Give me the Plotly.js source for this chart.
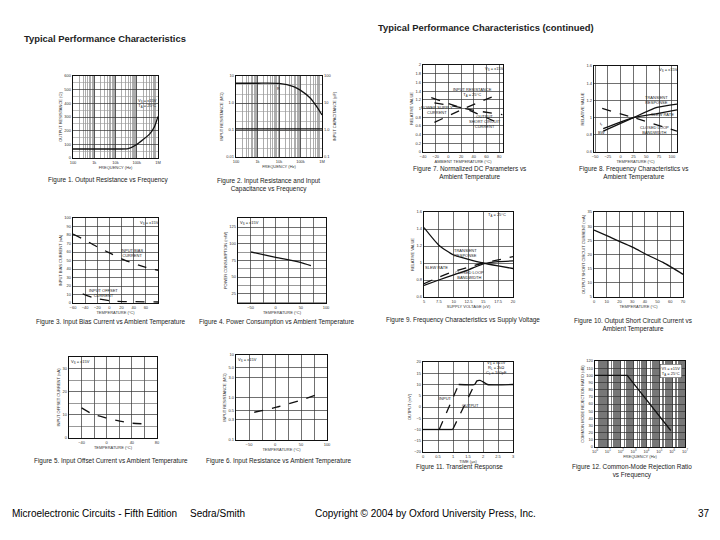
<!DOCTYPE html>
<html>
<head>
<meta charset="utf-8">
<script src="https://cdn.plot.ly/plotly-3.0.1.min.js"></script>
<style>html,body{margin:0;padding:0;background:#fff;}#chart{width:720px;height:540px;}</style>
</head>
<body>
<div id="chart"></div>
<script>
// ---------- DATA ----------
// Figure 1: Output resistance vs frequency
const f1Freq = [100, 1000, 10000, 39000, 96000, 195000, 410000, 690000, 1000000];
const f1Rout = [66, 66, 66, 68, 97, 134, 177, 231, 304];
// Figure 2: Input resistance and capacitance vs frequency
const f2Freq = [100, 1000, 10000, 48000, 98000, 290000, 590000, 1000000];
const f2Rin = [5.4, 5.4, 5.3, 4.05, 3.0, 1.5, 0.7, 0.36];
const f2FreqC = [100, 1000, 10000, 100000, 1000000];
const f2Cin = [1.1, 1.1, 1.1, 1.1, 1.1];
// Figure 3: Input bias / offset current vs temperature
const f3Temp = [-60, -40, -20, 0, 20, 40, 60, 80];
const f3Ibias = [81, 74, 66, 59, 52, 46.5, 42, 38.5];
const f3TempOs = [-44, -26, 0, 12, 40, 80];
const f3Ioffset = [10.7, 6, 2.8, 2, 1.6, 1.2];
// Figure 4: Power consumption vs temperature
const f4Temp = [-49, 0, 49, 70];
const f4Power = [87.5, 79.5, 72, 67];
// Figure 5: Input offset current vs temperature
const f5Temp = [-40, -23, -1, 20.5, 40.5, 60];
const f5Ios = [13, 10.4, 8.7, 7.3, 6.4, 6.1];
// Figure 6: Input resistance vs temperature
const f6Temp = [-40, 3, 50, 79];
const f6Rin = [0.45, 0.59, 0.87, 1.15];
// Figure 7: Normalized DC parameters
const f7TempR = [-22, 25, 81];
const f7InRes = [0.68, 1.0, 1.34];
const f7TempP = [-27, 25, 85];
const f7PsCurr = [1.25, 1.0, 0.86];
const f7TempS = [-22, 25, 78];
const f7ScCurr = [1.13, 1.0, 0.67];
// Figure 8: Frequency characteristics vs temperature
const f8Temp = [-34, 25, 71, 110];
const f8Trans = [0.843, 1.0, 1.118, 1.157];
const f8Slew = [0.871, 1.0, 1.047, 1.09];
const f8TempBw = [-36, 25, 110];
const f8Bw = [1.106, 1.0, 0.843];
// Figure 9: Frequency characteristics vs supply voltage
const f9Volt = [5, 7.5, 10, 12.5, 15, 17.5, 20];
const f9Trans = [1.417, 1.21, 1.094, 1.044, 1.0, 0.966, 0.935];
const f9Slew = [0.756, 0.833, 0.9, 0.95, 1.0, 1.036, 1.075];
const f9Bw = [0.736, 0.80, 0.86, 0.92, 0.99, 1.016, 1.024];
// Figure 10: Output short circuit current vs temperature
const f10Temp = [0, 12.3, 30.7, 41.2, 54.3, 70];
const f10Isc = [28.6, 26.2, 22.5, 20.0, 17.2, 13.0];
// Figure 11: Transient response (flat parts shared, ramps dashed)
const f11LowTime = [0, 0.99];
const f11Low = [-10, -10];
const f11InRampTime = [0.54, 1.19];
const f11InRamp = [-10, 10];
const f11OutRampTime = [0.99, 1.72];
const f11OutRamp = [-10, 10];
const f11HighTime = [1.19, 1.72, 1.8, 1.9, 2.0, 2.15, 3.0];
const f11High = [10, 10, 11.6, 11.8, 11.2, 10, 10];
// Figure 12: CMRR vs frequency
const f12Freq = [1, 320, 780000];
const f12Cmrr = [100, 100, 23];

// tick labels
const freqTicks = [100, 1000, 10000, 100000, 1000000];
const freqLabels = ['100', '1k', '10k', '100k', '1M'];
const f2RTicks = [0.01, 0.1, 1, 10];
const f2RLabels = ['0.01', '0.1', '1.0', '10'];
const f2CTicks = [0.1, 1, 10, 100];
const f2CLabels = ['0.1', '1.0', '10', '100'];
const f6Ticks = [0.1, 0.3, 0.5, 1, 3, 5, 10];
const f6Labels = ['0.1', '0.3', '0.5', '1.0', '3.0', '5.0', '10'];
const f12Ticks = [1, 10, 100, 1e3, 1e4, 1e5, 1e6, 1e7];
const f12Labels = ['10<sup>0</sup>', '10<sup>1</sup>', '10<sup>2</sup>', '10<sup>3</sup>', '10<sup>4</sup>', '10<sup>5</sup>', '10<sup>6</sup>', '10<sup>7</sup>'];

// ---------- LAYOUT HELPERS ----------
const W = 720, H = 540;
const FONT = 'Liberation Sans, Arial, sans-serif';
function dom(l, r, t, b) { return { x: [l / W, r / W], y: [1 - b / H, 1 - t / H] }; }
function axName(i, c) { return c + 'axis' + (i === 1 ? '' : i); }
function ref(i, c) { return c + (i === 1 ? '' : i); }
function baseAxis(extra) {
  const a = {
    showline: true, mirror: true, linecolor: '#111', linewidth: 1.2,
    showgrid: true, gridcolor: '#333', gridwidth: 0.7, zeroline: false,
    ticks: '', tickfont: { family: FONT, size: 4, color: '#333' },
    fixedrange: true
  };
  Object.assign(a, extra);
  if (extra.titleText) {
    a.title = { text: extra.titleText, font: { family: FONT, size: 4, color: '#333' }, standoff: 2 };
    delete a.titleText;
  }
  return a;
}

const panels = [
  { d: dom(73, 158, 76, 158),
    x: { type: 'log', range: [2, 6], tickvals: freqTicks, ticktext: freqLabels, minor: { dtick: 'D1', showgrid: true, gridcolor: '#999', gridwidth: 0.8 }, titleText: 'FREQUENCY (Hz)' },
    y: { range: [0, 600], dtick: 100, minor: { dtick: 50, showgrid: true, gridcolor: '#999', gridwidth: 0.6 }, titleText: 'OUTPUT RESISTANCE (Ω)' } },
  { d: dom(236, 322, 76, 157),
    x: { type: 'log', range: [2, 6], tickvals: freqTicks, ticktext: freqLabels, minor: { dtick: 'D1', showgrid: true, gridcolor: '#999', gridwidth: 0.8 }, titleText: 'FREQUENCY (Hz)' },
    y: { type: 'log', range: [-2, 1], tickvals: f2RTicks, ticktext: f2RLabels, minor: { dtick: 'D2', showgrid: true, gridcolor: '#999', gridwidth: 0.6 }, titleText: 'INPUT RESISTANCE (MΩ)' } },
  { d: dom(73, 158, 218, 303),
    x: { range: [-60, 80], tickvals: [-60, -40, -20, 0, 20, 40, 60], titleText: 'TEMPERATURE (°C)' },
    y: { range: [0, 100], dtick: 10, titleText: 'INPUT BIAS CURRENT (nA)' } },
  { d: dom(238, 326, 218, 303),
    x: { range: [-75, 100], tick0: -50, dtick: 50, minor: { dtick: 25, showgrid: true, gridcolor: '#333', gridwidth: 0.7 }, titleText: 'TEMPERATURE (°C)' },
    y: { range: [11, 138.5], tick0: 25, dtick: 25, minor: { dtick: 12.5, showgrid: true, gridcolor: '#555', gridwidth: 0.6 }, titleText: 'POWER CONSUMPTION (mW)' } },
  { d: dom(69, 157, 357, 438),
    x: { range: [-60, 80], tick0: -40, dtick: 40, minor: { dtick: 20, showgrid: true, gridcolor: '#333', gridwidth: 0.7 }, titleText: 'TEMPERATURE (°C)' },
    y: { range: [0, 35], dtick: 10, minor: { dtick: 5, showgrid: true, gridcolor: '#555', gridwidth: 0.6 }, titleText: 'INPUT OFFSET CURRENT (nA)' } },
  { d: dom(236, 327, 355, 440),
    x: { range: [-75, 100], tick0: -50, dtick: 50, minor: { dtick: 25, showgrid: true, gridcolor: '#333', gridwidth: 0.7 }, titleText: 'TEMPERATURE (°C)' },
    y: { type: 'log', range: [-1, 1], tickvals: f6Ticks, ticktext: f6Labels, titleText: 'INPUT RESISTANCE (MΩ)' } },
  { d: dom(423, 503, 65, 152),
    x: { range: [-40, 86], tick0: -40, dtick: 20, titleText: 'AMBIENT TEMPERATURE (°C)' },
    y: { range: [0, 2], dtick: 0.2, titleText: 'RELATIVE VALUE' } },
  { d: dom(594, 677, 66, 152),
    x: { range: [-52, 110], tick0: -50, dtick: 25, titleText: 'TEMPERATURE (°C)' },
    y: { range: [0.6, 1.6], dtick: 0.2, titleText: 'RELATIVE VALUE' } },
  { d: dom(424, 513, 212, 297),
    x: { range: [5, 20], tick0: 5, dtick: 2.5, titleText: 'SUPPLY VOLTAGE (±V)' },
    y: { range: [0.6, 1.6], dtick: 0.2, titleText: 'RELATIVE VALUE' } },
  { d: dom(594, 683, 212, 297),
    x: { range: [0, 70], dtick: 10, titleText: 'TEMPERATURE (°C)' },
    y: { range: [5, 35], dtick: 5, titleText: 'OUTPUT SHORT CIRCUIT CURRENT (mA)' } },
  { d: dom(423, 513, 362, 452),
    x: { range: [0, 3], dtick: 0.5, titleText: 'TIME (µs)' },
    y: { range: [-20, 20], dtick: 5, titleText: 'OUTPUT (mV)' } },
  { d: dom(595, 685, 361, 447),
    x: { type: 'log', range: [0, 7], tickvals: f12Ticks, ticktext: f12Labels, minor: { dtick: 'D1', showgrid: true, gridcolor: '#777', gridwidth: 1.5 }, titleText: 'FREQUENCY (Hz)' },
    y: { range: [0, 120], dtick: 10, titleText: 'COMMON MODE REJECTION RATIO (dB)' } }
];

const layout = {
  width: W, height: H, margin: { l: 0, r: 0, t: 0, b: 0 },
  paper_bgcolor: '#fff', plot_bgcolor: '#fff', showlegend: false,
  font: { family: FONT, color: '#222' },
  annotations: []
};
panels.forEach((p, k) => {
  const i = k + 1;
  layout[axName(i, 'x')] = baseAxis(Object.assign({ domain: p.d.x, anchor: ref(i, 'y') }, p.x));
  layout[axName(i, 'y')] = baseAxis(Object.assign({ domain: p.d.y, anchor: ref(i, 'x') }, p.y));
});
// right axis of figure 2 (capacitance)
layout.yaxis13 = baseAxis({ overlaying: 'y2', anchor: 'x2', side: 'right', type: 'log', range: [-1, 2], tickvals: f2CTicks, ticktext: f2CLabels, showgrid: false, titleText: 'INPUT CAPACITANCE (pF)' });

function line(i, x, y, dash, yref, straight) {
  return { x: x, y: y, xaxis: ref(i, 'x'), yaxis: yref || ref(i, 'y'), mode: 'lines', hoverinfo: 'skip',
    line: straight ? { color: '#111', width: 1.3, dash: dash || 'solid' }
                   : { color: '#111', width: 1.3, dash: dash || 'solid', shape: 'spline', smoothing: 0.6 } };
}
const data = [
  line(1, f1Freq, f1Rout),
  line(2, f2Freq, f2Rin),
  line(2, f2FreqC, f2Cin, 'solid', 'y13'),
  line(3, f3Temp, f3Ibias, 'dash'),
  line(3, f3TempOs, f3Ioffset, 'dash'),
  line(4, f4Temp, f4Power),
  line(5, f5Temp, f5Ios, 'dash'),
  line(6, f6Temp, f6Rin, 'dash'),
  line(7, f7TempR, f7InRes, 'dash'),
  line(7, f7TempP, f7PsCurr, 'dash'),
  line(7, f7TempS, f7ScCurr, 'dash'),
  line(8, f8Temp, f8Trans),
  line(8, f8Temp, f8Slew),
  line(8, f8TempBw, f8Bw, 'dash'),
  line(9, f9Volt, f9Trans),
  line(9, f9Volt, f9Slew, 'dash'),
  line(9, f9Volt, f9Bw),
  line(10, f10Temp, f10Isc),
  line(11, f11LowTime, f11Low, 'solid', null, true),
  line(11, f11InRampTime, f11InRamp, 'dash', null, true),
  line(11, f11OutRampTime, f11OutRamp, 'dash', null, true),
  line(11, f11HighTime, f11High, 'solid'),
  line(12, f12Freq, f12Cmrr, 'solid', null, true)
];

function ann(text, px, py, size, opts) {
  return Object.assign({ text: text, x: px / W, y: 1 - py / H, xref: 'paper', yref: 'paper', showarrow: false,
    xanchor: 'center', yanchor: 'middle', font: { family: FONT, size: size, color: '#222' } }, opts || {});
}
const A = layout.annotations;
// page titles
A.push(ann('<b>Typical Performance Characteristics</b>', 22, 38, 9.4, { xanchor: 'left' }));
A.push(ann('<b>Typical Performance Characteristics (continued)</b>', 376, 28, 9.4, { xanchor: 'left' }));
// captions
const CS = 6.4;
A.push(ann('Figure 1. Output Resistance vs Frequency', 109, 180, CS));
A.push(ann('Figure 2. Input Resistance and Input<br>Capacitance vs Frequency', 268, 185, CS));
A.push(ann('Figure 3. Input Bias Current vs Ambient Temperature', 111, 322, CS));
A.push(ann('Figure 4. Power Consumption vs Ambient Temperature', 277, 322, CS));
A.push(ann('Figure 5. Input Offset Current vs Ambient Temperature', 111, 461, CS));
A.push(ann('Figure 6. Input Resistance vs Ambient Temperature', 279, 461, CS));
A.push(ann('Figure 7. Normalized DC Parameters vs<br>Ambient Temperature', 469, 173, CS));
A.push(ann('Figure 8. Frequency Characteristics vs<br>Ambient Temperature', 633, 173, CS));
A.push(ann('Figure 9. Frequency Characteristics vs Supply Voltage', 463, 320, CS));
A.push(ann('Figure 10. Output Short Circuit Current vs<br>Ambient Temperature', 633, 325, CS));
A.push(ann('Figure 11. Transient Response', 460, 467, CS));
A.push(ann('Figure 12. Common-Mode Rejection Ratio<br>vs Frequency', 632, 471, CS));
// in-plot labels
const LS = 4;
A.push(ann('V<sub>S</sub> = ±15V<br>T<sub>A</sub> = 25°C', 147, 103, LS));
A.push(ann('R', 278, 88, LS));
A.push(ann('C', 278, 130, LS));
A.push(ann('V<sub>S</sub> = ±15V', 149, 223, LS));
A.push(ann('INPUT BIAS<br>CURRENT', 132, 253, LS));
A.push(ann('INPUT OFFSET<br>CURRENT', 103, 293, LS));
A.push(ann('V<sub>S</sub> = ±15V', 249, 223, LS));
A.push(ann('V<sub>S</sub> = ±15V', 80, 362, LS));
A.push(ann('V<sub>S</sub> = ±15V', 247, 360, LS));
A.push(ann('V<sub>S</sub> = ±15V', 494, 69, LS));
A.push(ann('INPUT RESISTANCE<br>T<sub>A</sub> = 25°C', 472, 92, LS));
A.push(ann('POWER SUPPLY<br>CURRENT', 437, 110, LS));
A.push(ann('OUTPUT<br>SHORT CIRCUIT<br>CURRENT', 485, 122, LS));
A.push(ann('V<sub>S</sub> = ±15V', 668, 70, LS));
A.push(ann('TRANSIENT<br>RESPONSE', 656, 100, LS));
A.push(ann('SLEW RATE', 662, 114, LS));
A.push(ann('CLOSED LOOP<br>BANDWIDTH', 654, 130, LS));
A.push(ann('t<sub>r</sub>', 601, 124, LS));
A.push(ann('BW', 601, 133, LS));
A.push(ann('T<sub>A</sub> = 25°C', 497, 215, LS));
A.push(ann('TRANSIENT<br>RESPONSE', 465, 253, LS));
A.push(ann('SLEW RATE', 437, 268, LS));
A.push(ann('CLOSED LOOP<br>BANDWIDTH', 469, 275, LS));
A.push(ann('V<sub>S</sub> = ±15V<br>R<sub>L</sub> = 2kΩ<br>C<sub>L</sub> = 100pF', 496, 368, LS));
A.push(ann('INPUT', 445, 398, LS));
A.push(ann('OUTPUT', 470, 405, LS));
A.push(ann('V<sub>S</sub> = ±15V<br>T<sub>A</sub> = 25°C', 671, 371, LS, { bgcolor: '#fff', bordercolor: '#333', borderwidth: 0.5 }));
// footer
const FS = 10;
const footFont = { family: FONT, size: FS, color: '#000' };
A.push(ann('Microelectronic Circuits - Fifth Edition', 10, 513, FS, { xanchor: 'left', font: footFont }));
A.push(ann('Sedra/Smith', 188, 513, FS, { xanchor: 'left', font: footFont }));
A.push(ann('Copyright © 2004 by Oxford University Press, Inc.', 313, 513, FS, { xanchor: 'left', font: footFont }));
A.push(ann('37', 712, 513, FS, { xanchor: 'right', font: footFont }));

Plotly.newPlot('chart', data, layout, { staticPlot: true, displayModeBar: false });
</script>
</body>
</html>
